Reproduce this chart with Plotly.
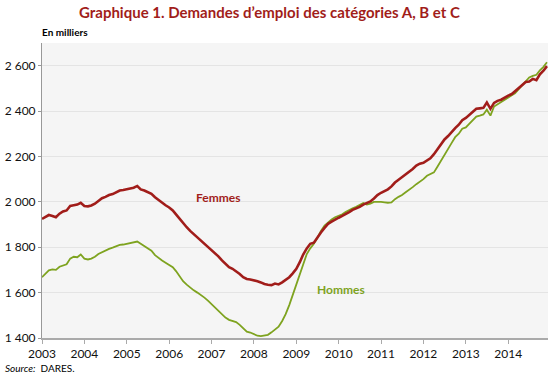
import plotly.graph_objects as go

months = [f"{y}-{m:02d}-01" for y in range(2003, 2015) for m in range(1, 13)]

femmes = [
    1925, 1935, 1942, 1938, 1932, 1948, 1958, 1962, 1982, 1985, 1988, 1996,  # 2003
    1982, 1980, 1984, 1992, 2005, 2016, 2022, 2030, 2034, 2042, 2050, 2052,  # 2004
    2056, 2060, 2062, 2070, 2055, 2050, 2043, 2035, 2020, 2008, 1995, 1985,  # 2005
    1975, 1962, 1945, 1925, 1905, 1888, 1872, 1858, 1842, 1830, 1818, 1805,  # 2006
    1790, 1775, 1760, 1742, 1725, 1712, 1705, 1695, 1682, 1668, 1660, 1658,  # 2007
    1655, 1650, 1645, 1638, 1635, 1633, 1640, 1636, 1645, 1655, 1668, 1685,  # 2008
    1705, 1735, 1768, 1795, 1815, 1820, 1845, 1865, 1885, 1903, 1913, 1923,  # 2009
    1930, 1938, 1945, 1955, 1965, 1970, 1978, 1988, 1996, 2002, 2015, 2030,  # 2010
    2040, 2048, 2055, 2068, 2085, 2097, 2108, 2120, 2130, 2145, 2160, 2168,  # 2011
    2172, 2182, 2192, 2210, 2232, 2255, 2275, 2290, 2310, 2325, 2340, 2360,  # 2012
    2370, 2385, 2398, 2410, 2412, 2414, 2438, 2410, 2436, 2445, 2450, 2460,  # 2013
    2468, 2475, 2488, 2500, 2515, 2528, 2530, 2542, 2536, 2562, 2578, 2598,  # 2014
]

hommes = [
    1668, 1685, 1698, 1702, 1700, 1714, 1720, 1725, 1750, 1758, 1756, 1768,  # 2003
    1750, 1746, 1750, 1758, 1770, 1778, 1785, 1793, 1798, 1805, 1810, 1812,  # 2004
    1815, 1818, 1820, 1825, 1815, 1805, 1795, 1785, 1765, 1752, 1742, 1732,  # 2005
    1722, 1712, 1695, 1670, 1650, 1635, 1622, 1610, 1600, 1590, 1578, 1565,  # 2006
    1550, 1535, 1518, 1505, 1490, 1480, 1476, 1470, 1458, 1442, 1428, 1424,  # 2007
    1418, 1410, 1408, 1412, 1414, 1425, 1438, 1450, 1475, 1505, 1545, 1590,  # 2008
    1635, 1685, 1730, 1770, 1795, 1815, 1840, 1872, 1895, 1910, 1922, 1932,  # 2009
    1938, 1945, 1955, 1965, 1972, 1978, 1985, 1995, 1988, 1992, 2000, 2001,  # 2010
    2000, 1998, 1996, 1998, 2012, 2022, 2030, 2042, 2052, 2065, 2078, 2088,  # 2011
    2100, 2115, 2122, 2130, 2155, 2180, 2207, 2232, 2260, 2285, 2300, 2322,  # 2012
    2328, 2345, 2362, 2376, 2380, 2385, 2406, 2380, 2420, 2430, 2442, 2452,  # 2013
    2462, 2470, 2478, 2495, 2512, 2530, 2548, 2555, 2560, 2580, 2595, 2615,  # 2014
]

y_ticks = [1400, 1600, 1800, 2000, 2200, 2400, 2600]
y_tick_labels = ["1 400", "1 600", "1 800", "2 000", "2 200", "2 400", "2 600"]
x_ticks = [f"{y}-01-01" for y in range(2003, 2015)]
x_tick_labels = [str(y) for y in range(2003, 2015)]

RED = "#A11D1A"
GREEN = "#7EA31F"
FONT = "Lato"

fig = go.Figure()
fig.add_trace(go.Scatter(x=months, y=hommes, mode="lines", name="Hommes",
                         line=dict(color=GREEN, width=1.8)))
fig.add_trace(go.Scatter(x=months, y=femmes, mode="lines", name="Femmes",
                         line=dict(color=RED, width=2.6)))

fig.update_layout(
    width=550, height=375,
    margin=dict(l=42, r=2, t=43, b=37),
    paper_bgcolor="white",
    plot_bgcolor="#F5F5F5",
    showlegend=False,
    font=dict(family=FONT, size=12, color="#111111"),
    xaxis=dict(
        type="date",
        range=["2003-01-01", "2014-12-10"],
        tickvals=x_ticks, ticktext=x_tick_labels,
        showgrid=False, zeroline=False,
        showline=True, linecolor="#AAAAAA", linewidth=2,
        ticks="outside", ticklen=4, tickcolor="#AAAAAA", tickwidth=1,
        tickfont=dict(size=12),
    ),
    yaxis=dict(
        range=[1400, 2700],
        tickvals=y_ticks, ticktext=y_tick_labels,
        showgrid=True, gridcolor="#E4E4E4", gridwidth=1,
        zeroline=False,
        showline=True, linecolor="#999999", linewidth=1,
        ticks="outside", ticklen=3, tickcolor="#999999",
        tickfont=dict(size=12),
    ),
    annotations=[
        dict(text="<b>Graphique 1. Demandes d\u2019emploi des cat\u00e9gories A, B et C</b>",
             xref="paper", yref="paper", x=0.449, y=1.105, xanchor="center", yanchor="middle",
             showarrow=False, font=dict(family=FONT, size=15, color=RED)),
        dict(text="<b>En milliers</b>", xref="paper", yref="paper", x=-0.004, y=1.036,
             xanchor="left", yanchor="middle", showarrow=False,
             font=dict(family=FONT, size=10, color="#000000")),
        dict(text="<i>Source:</i>  DARES.", xref="paper", yref="paper", x=-0.078, y=-0.102,
             xanchor="left", yanchor="middle", showarrow=False,
             font=dict(family=FONT, size=10, color="#000000")),
        dict(text="<b>Femmes</b>", xref="x", yref="y", x="2007-02-25", y=2017,
             xanchor="center", yanchor="middle", showarrow=False,
             font=dict(family=FONT, size=12, color=RED)),
        dict(text="<b>Hommes</b>", xref="x", yref="y", x="2010-01-20", y=1612,
             xanchor="center", yanchor="middle", showarrow=False,
             font=dict(family=FONT, size=12, color=GREEN)),
    ],
)

fig.write_html("out.html", config={"displayModeBar": False},
               post_script="document.body.style.margin='0';")
